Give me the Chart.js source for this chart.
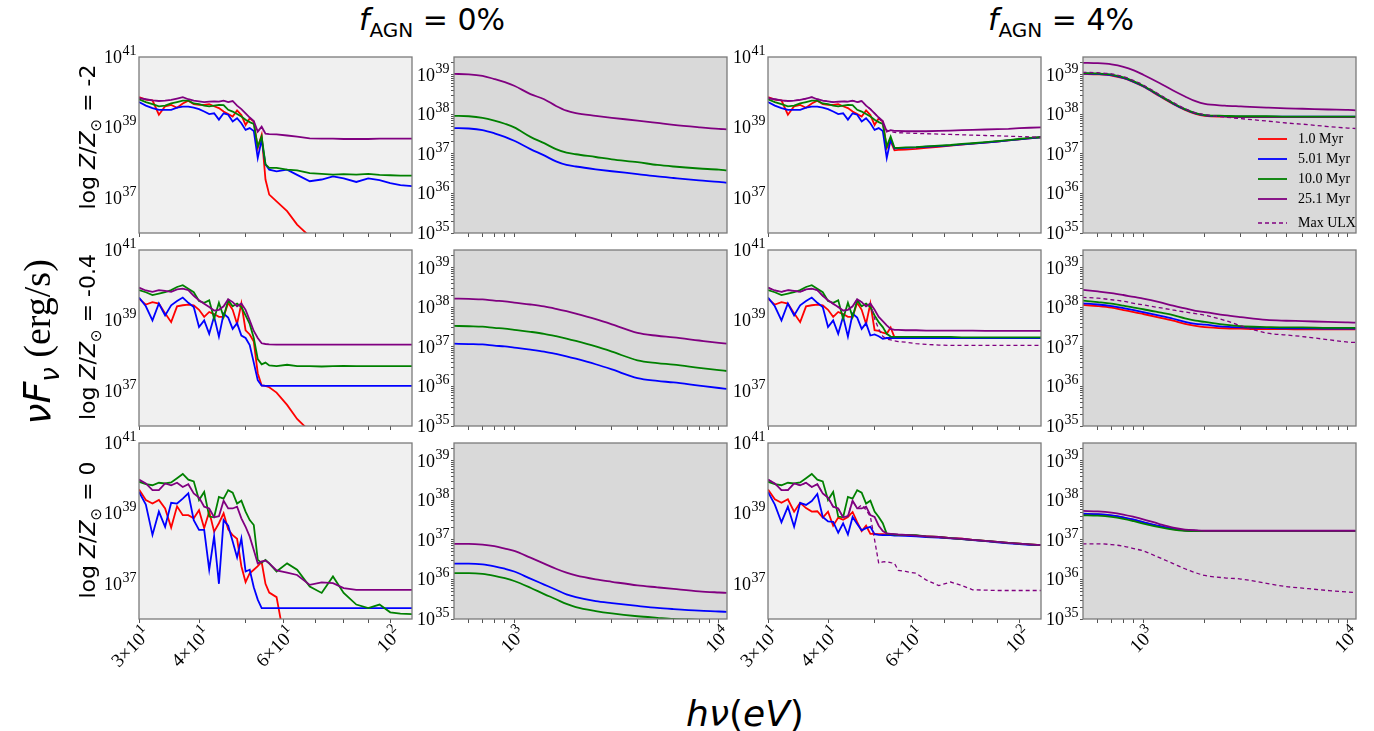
<!DOCTYPE html>
<html>
<head>
<meta charset="utf-8">
<script src="https://cdn.jsdelivr.net/npm/chart.js@4.4.1/dist/chart.umd.min.js"></script>
<style>
  html, body { margin: 0; padding: 0; background: #ffffff; }
  body { width: 1374px; height: 731px; position: relative; overflow: hidden; }
  canvas { position: absolute; }
  .txt { position: absolute; white-space: nowrap; color: #000; transform: translate(-50%, -50%); }
  .rot { transform: translate(-50%, -50%) rotate(-90deg); }
  .sans { font-family: 'DejaVu Sans', sans-serif; }
  .serif { font-family: 'Liberation Serif', 'DejaVu Serif', serif; }
</style>
</head>
<body>
<script>
// ---------------- energies (eV) ----------------
const lowE = [30,31,32,33,34,35,36,37,38,39,40,41,42,43,44,45,46,47,48,49,50,51,52,53,54,55,56,58,61,64,68,72,76,80,85,90,95,100,105,111];
const highE = [505,600,700,800,900,1000,1200,1400,1600,1800,2000,2500,3000,4000,5000,6000,8000,10000,10900];

// ---------------- series names ----------------
const ageLabels = ['1.0 Myr', '5.01 Myr', '10.0 Myr', '25.1 Myr'];
const ulxLabel = 'Max ULX';

// ---------------- tick values / labels ([mantissa, exponent]) ----------------
const lowXTicks = [30,40,50,60,70,80,90,100];
const lowXLabels = [['3×10','1'], ['4×10','1'], null, ['6×10','1'], null, null, null, ['10','2']];
const highXTicks = [600,700,800,900,1000,2000,3000,4000,5000,6000,7000,8000,9000,10000];
const highXLabels = [null,null,null,null,['10','3'],null,null,null,null,null,null,null,null,['10','4']];
const lowYTicks = [1e36,1e37,1e38,1e39,1e40,1e41];
const lowYLabels = [null, ['10','37'], null, ['10','39'], null, ['10','41']];
const highYTicks = [1e35,2e35,3e35,4e35,5e35,6e35,7e35,8e35,9e35,1e36,2e36,3e36,4e36,5e36,6e36,7e36,8e36,9e36,1e37,2e37,3e37,4e37,5e37,6e37,7e37,8e37,9e37,1e38,2e38,3e38,4e38,5e38,6e38,7e38,8e38,9e38,1e39,2e39];
const highYLabels = [['10','35'],null,null,null,null,null,null,null,null,['10','36'],null,null,null,null,null,null,null,null,['10','37'],null,null,null,null,null,null,null,null,['10','38'],null,null,null,null,null,null,null,null,['10','39'],null];

// ---------------- log10 luminosity, low-energy panels ----------------
// log Z/Z_sun = -2, f_AGN = 0%
const lo_m2_f0_red    = [39.86,39.79,39.77,39.36,39.60,39.64,39.56,39.68,39.76,39.66,39.64,39.64,39.66,39.60,39.55,39.45,39.38,39.31,39.48,39.35,39.07,39.26,39.17,38.41,38.79,37.52,37.09,36.90,36.62,36.24,35.90,null,null,null,null,null,null,null,null,null];
const lo_m2_f0_blue   = [39.72,39.62,39.55,39.50,39.50,39.50,39.56,39.59,39.59,39.56,39.52,39.45,39.38,39.40,39.22,39.40,39.36,39.17,39.26,39.12,38.93,38.98,38.90,38.13,38.65,37.95,37.80,37.75,37.80,37.65,37.47,37.52,37.61,37.55,37.45,37.55,37.50,37.42,37.36,37.33];
const lo_m2_f0_green  = [39.80,39.72,39.66,39.60,39.62,39.68,39.72,39.76,39.76,39.68,39.66,39.62,39.60,39.62,39.64,39.63,39.50,39.45,39.38,39.31,39.22,39.15,39.10,38.46,38.74,37.95,37.85,37.85,37.80,37.78,37.70,37.68,37.66,37.67,37.66,37.68,37.65,37.64,37.63,37.63];
const lo_m2_f0_purple = [39.83,39.80,39.77,39.75,39.76,39.78,39.82,39.86,39.80,39.76,39.74,39.72,39.73,39.74,39.73,39.76,39.72,39.75,39.62,39.52,39.40,39.28,39.18,38.88,39.02,38.82,38.81,38.80,38.77,38.74,38.69,38.68,38.68,38.67,38.67,38.67,38.68,38.68,38.68,38.68];
// log Z/Z_sun = -2, f_AGN = 4%
const lo_m2_f4_red    = [39.86,39.79,39.77,39.36,39.60,39.64,39.56,39.68,39.76,39.66,39.64,39.64,39.66,39.60,39.55,39.45,39.38,39.31,39.48,39.35,39.07,39.26,39.17,38.41,38.60,38.35,38.36,38.37,38.39,38.42,38.45,38.48,38.51,38.54,38.57,38.60,38.63,38.66,38.69,38.72];
const lo_m2_f4_blue   = [39.72,39.62,39.55,39.50,39.50,39.50,39.56,39.59,39.59,39.56,39.52,39.45,39.38,39.40,39.22,39.40,39.36,39.17,39.26,39.12,38.93,38.98,38.90,38.13,38.65,38.40,38.41,38.42,38.43,38.45,38.47,38.49,38.52,38.54,38.57,38.60,38.63,38.66,38.69,38.72];
const lo_m2_f4_green  = [39.80,39.72,39.66,39.60,39.62,39.68,39.72,39.76,39.76,39.68,39.66,39.62,39.60,39.62,39.64,39.63,39.50,39.45,39.38,39.31,39.22,39.15,39.10,38.46,38.74,38.42,38.42,38.43,38.44,38.46,38.48,38.50,38.53,38.55,38.58,38.61,38.64,38.67,38.70,38.72];
const lo_m2_f4_purple = [39.83,39.80,39.77,39.75,39.76,39.78,39.82,39.86,39.80,39.76,39.74,39.72,39.73,39.74,39.73,39.76,39.72,39.75,39.62,39.52,39.40,39.28,39.18,38.88,38.92,38.90,38.90,38.89,38.89,38.89,38.90,38.91,38.92,38.93,38.94,38.95,38.96,38.98,38.99,39.00];
const lo_m2_f4_ulx    = [39.83,39.80,39.77,39.75,39.76,39.78,39.82,39.86,39.80,39.76,39.74,39.72,39.73,39.74,39.73,39.76,39.72,39.75,39.62,39.52,39.40,39.28,39.10,38.92,38.88,38.86,38.85,38.84,38.83,38.82,38.81,38.80,38.79,38.78,38.77,38.76,38.75,38.74,38.73,38.72];
// log Z/Z_sun = -0.4, f_AGN = 0%
const lo_m04_f0_red    = [39.62,39.45,39.52,39.48,39.20,38.95,39.40,39.43,39.45,39.43,39.30,39.10,39.24,39.18,39.10,39.10,39.50,39.30,38.90,39.48,38.72,38.60,38.40,37.50,37.15,37.14,37.10,36.95,36.60,36.20,35.85,null,null,null,null,null,null,null,null,null];
const lo_m04_f0_blue   = [39.65,39.40,39.00,39.48,39.14,39.43,39.55,39.65,39.50,39.38,38.81,39.00,38.62,39.11,38.54,39.19,39.08,38.76,38.92,38.57,38.50,38.30,37.80,37.30,37.15,37.14,37.14,37.14,37.14,37.14,37.14,37.14,37.14,37.14,37.14,37.14,37.14,37.14,37.14,37.14];
const lo_m04_f0_green  = [39.86,39.80,39.72,39.76,39.80,39.86,39.95,40.00,39.90,39.80,39.55,39.50,39.57,39.05,39.50,39.10,39.57,39.40,39.48,39.38,39.14,38.90,38.50,37.90,37.75,37.80,37.72,37.70,37.74,37.70,37.70,37.69,37.70,37.71,37.70,37.70,37.70,37.70,37.70,37.70];
const lo_m04_f0_purple = [39.93,39.85,39.81,39.86,39.84,39.81,39.88,39.90,39.86,39.70,39.57,39.47,39.38,39.28,39.30,39.40,39.60,39.52,39.40,39.48,39.30,39.00,38.70,38.50,38.35,38.33,38.32,38.31,38.31,38.31,38.31,38.31,38.31,38.31,38.31,38.31,38.31,38.31,38.31,38.31];
// log Z/Z_sun = -0.4, f_AGN = 4%
const lo_m04_f4_red    = [39.62,39.45,39.52,39.48,39.20,38.95,39.40,39.43,39.45,39.43,39.30,39.10,39.24,39.18,39.10,39.10,39.50,39.30,38.90,39.48,38.72,38.70,38.65,38.62,38.80,38.52,38.51,38.50,38.50,38.50,38.50,38.50,38.50,38.50,38.50,38.50,38.50,38.50,38.50,38.50];
const lo_m04_f4_blue   = [39.65,39.40,39.00,39.48,39.14,39.43,39.55,39.65,39.50,39.38,38.81,39.00,38.62,39.11,38.54,39.19,39.08,38.76,38.92,38.57,38.60,38.55,38.48,38.50,38.50,38.50,38.50,38.50,38.50,38.50,38.50,38.50,38.50,38.50,38.50,38.50,38.50,38.50,38.50,38.50];
const lo_m04_f4_green  = [39.86,39.80,39.72,39.76,39.80,39.86,39.95,40.00,39.90,39.80,39.55,39.50,39.57,39.05,39.50,39.10,39.57,39.40,39.48,39.38,39.14,38.95,38.81,38.62,38.54,38.53,38.53,38.53,38.53,38.53,38.53,38.53,38.52,38.52,38.52,38.52,38.52,38.52,38.52,38.52];
const lo_m04_f4_purple = [39.93,39.85,39.81,39.86,39.84,39.81,39.88,39.90,39.86,39.70,39.57,39.47,39.38,39.28,39.30,39.40,39.60,39.52,39.40,39.48,39.30,39.10,38.98,38.86,38.76,38.73,38.73,38.72,38.72,38.71,38.71,38.71,38.71,38.71,38.70,38.70,38.70,38.70,38.70,38.70];
const lo_m04_f4_ulx    = [39.93,39.85,39.81,39.86,39.84,39.81,39.88,39.90,39.86,39.70,39.57,39.47,39.38,39.28,39.30,39.40,39.60,39.52,39.40,39.48,39.05,38.75,38.55,38.47,38.45,38.42,38.40,38.38,38.34,38.32,38.30,38.29,38.29,38.29,38.29,38.29,38.29,38.29,38.29,38.29];
// log Z/Z_sun = 0, f_AGN = 0%
const lo_0_f0_red    = [39.68,39.38,39.28,39.38,39.14,38.60,39.20,38.95,38.95,38.86,39.09,38.58,39.05,38.48,38.72,39.00,38.55,38.38,38.28,37.50,37.05,37.30,37.40,37.50,37.62,37.00,36.75,36.62,35.00,null,null,null,null,null,null,null,null,null,null,null];
const lo_0_f0_blue   = [39.61,39.25,38.39,39.05,38.62,39.30,39.28,39.42,39.57,38.81,38.53,38.53,37.40,38.35,37.00,38.81,38.65,38.20,37.75,38.29,37.35,37.40,36.90,36.55,36.31,36.31,36.31,36.31,36.31,36.31,36.31,36.31,36.31,36.31,36.31,36.31,36.31,36.31,36.31,36.31];
const lo_0_f0_green  = [39.90,39.83,39.80,39.87,39.85,39.88,40.00,40.12,39.96,39.91,39.38,39.61,38.91,38.89,39.47,39.42,39.66,39.59,39.28,39.36,39.05,38.81,38.67,37.68,37.60,37.68,37.58,37.35,37.58,37.40,36.92,36.74,37.21,36.74,36.41,36.31,36.41,36.19,36.15,36.14];
const lo_0_f0_purple = [39.96,39.85,39.66,39.66,39.85,39.80,39.87,39.75,39.83,39.57,39.45,39.19,39.14,38.89,38.92,39.36,39.14,39.14,39.19,38.86,38.62,38.34,37.96,37.58,37.63,37.66,37.58,37.38,37.32,37.25,36.97,37.04,37.02,36.88,36.83,36.83,36.83,36.83,36.83,36.83];
// log Z/Z_sun = 0, f_AGN = 4%
const lo_0_f4_red    = [39.68,39.40,39.30,39.40,39.05,39.30,39.15,39.05,39.06,38.88,39.05,38.65,38.88,38.82,38.90,39.04,38.75,38.50,38.65,38.42,38.42,38.41,38.41,38.40,38.40,38.39,38.39,38.38,38.37,38.35,38.33,38.30,38.28,38.25,38.22,38.19,38.16,38.14,38.12,38.10];
const lo_0_f4_blue   = [39.61,39.25,38.75,39.19,38.62,39.30,39.24,39.35,39.55,38.90,38.77,38.76,38.45,38.72,38.40,38.90,38.70,38.52,38.58,38.62,38.41,38.39,38.38,38.38,38.38,38.37,38.37,38.36,38.35,38.33,38.31,38.29,38.27,38.24,38.21,38.18,38.15,38.13,38.11,38.10];
const lo_0_f4_green  = [39.90,39.83,39.80,39.87,39.85,39.88,40.00,40.12,39.96,39.91,39.38,39.61,38.91,38.89,39.47,39.42,39.66,39.59,39.28,39.36,39.05,38.90,38.72,38.42,38.41,38.40,38.39,38.39,38.38,38.35,38.33,38.30,38.27,38.25,38.22,38.19,38.16,38.14,38.12,38.10];
const lo_0_f4_purple = [39.96,39.85,39.66,39.66,39.85,39.80,39.87,39.75,39.83,39.57,39.45,39.19,39.14,38.89,38.92,39.36,39.14,39.14,39.19,38.95,38.90,38.65,38.50,38.43,38.42,38.41,38.40,38.39,38.37,38.35,38.33,38.30,38.28,38.25,38.22,38.19,38.16,38.14,38.12,38.10];
const lo_0_f4_ulx    = [39.96,39.85,39.66,39.66,39.85,39.80,39.87,39.75,39.83,39.57,39.45,39.19,39.14,38.89,38.92,39.36,39.14,39.24,39.10,38.91,38.25,37.58,37.62,37.63,37.60,37.58,37.38,37.35,37.30,37.11,36.95,37.05,36.95,36.83,36.82,36.81,36.81,36.81,36.81,36.81];

// ---------------- log10 luminosity, high-energy panels ----------------
const hi_m2_f0_blue   = [37.65,37.64,37.60,37.52,37.43,37.33,37.12,36.96,36.81,36.72,36.68,36.61,36.56,36.49,36.43,36.39,36.33,36.29,36.27];
const hi_m2_f0_green  = [37.96,37.95,37.91,37.84,37.76,37.67,37.43,37.27,37.12,37.03,36.99,36.92,36.86,36.79,36.72,36.68,36.63,36.60,36.58];
const hi_m2_f0_purple = [39.02,39.01,38.97,38.89,38.81,38.72,38.51,38.38,38.21,38.09,38.03,37.96,37.91,37.84,37.78,37.73,37.67,37.63,37.62];

const hi_m2_f4_red    = [39.02,39.01,38.98,38.91,38.81,38.70,38.46,38.26,38.11,38.01,37.96,37.94,37.93,37.93,37.93,37.93,37.93,37.93,37.93];
const hi_m2_f4_blue   = [39.03,39.02,38.99,38.92,38.82,38.71,38.47,38.27,38.12,38.02,37.97,37.95,37.94,37.94,37.94,37.94,37.94,37.94,37.94];
const hi_m2_f4_green  = [39.04,39.03,39.00,38.93,38.83,38.72,38.48,38.28,38.13,38.03,37.98,37.96,37.95,37.95,37.94,37.94,37.94,37.94,37.94];
const hi_m2_f4_purple = [39.30,39.29,39.26,39.20,39.11,39.00,38.79,38.60,38.45,38.33,38.26,38.22,38.20,38.17,38.15,38.14,38.12,38.11,38.10];
const hi_m2_f4_ulx    = [39.06,39.05,39.02,38.95,38.85,38.74,38.50,38.30,38.14,38.04,37.99,37.93,37.89,37.83,37.78,37.75,37.69,37.65,37.64];

const hi_m04_f0_blue   = [37.08,37.07,37.06,37.03,37.01,36.98,36.93,36.88,36.82,36.76,36.70,36.56,36.43,36.21,36.14,36.10,36.02,35.96,35.94];
const hi_m04_f0_green  = [37.53,37.52,37.51,37.48,37.46,37.43,37.38,37.33,37.27,37.21,37.15,37.01,36.88,36.66,36.59,36.55,36.47,36.41,36.39];
const hi_m04_f0_purple = [38.22,38.21,38.20,38.17,38.15,38.12,38.07,38.02,37.96,37.90,37.84,37.70,37.57,37.35,37.28,37.24,37.16,37.10,37.08];

const hi_m04_f4_red    = [38.06,38.03,37.99,37.93,37.88,37.83,37.74,37.66,37.58,37.53,37.50,37.47,37.46,37.45,37.45,37.44,37.44,37.44,37.44];
const hi_m04_f4_blue   = [38.10,38.07,38.03,37.98,37.93,37.88,37.79,37.71,37.63,37.58,37.56,37.51,37.49,37.48,37.47,37.47,37.46,37.46,37.46];
const hi_m04_f4_green  = [38.17,38.13,38.09,38.04,37.99,37.95,37.87,37.80,37.72,37.66,37.63,37.56,37.52,37.50,37.49,37.49,37.48,37.48,37.48];
const hi_m04_f4_purple = [38.44,38.40,38.36,38.31,38.26,38.22,38.13,38.04,37.97,37.91,37.88,37.80,37.75,37.68,37.66,37.65,37.63,37.62,37.61];
const hi_m04_f4_ulx    = [38.25,38.23,38.19,38.15,38.10,38.06,37.99,37.93,37.88,37.84,37.80,37.67,37.53,37.35,37.30,37.26,37.18,37.12,37.11];

const hi_0_f0_blue   = [36.40,36.40,36.38,36.33,36.27,36.20,36.02,35.87,35.74,35.62,35.55,35.45,35.40,35.33,35.28,35.25,35.21,35.19,35.18];
const hi_0_f0_green  = [36.16,36.16,36.14,36.09,36.03,35.96,35.79,35.63,35.50,35.38,35.30,35.20,35.14,35.07,35.03,35.00,34.98,34.96,34.95];
const hi_0_f0_purple = [36.90,36.90,36.88,36.84,36.78,36.72,36.55,36.40,36.27,36.17,36.10,36.00,35.94,35.85,35.80,35.76,35.70,35.67,35.66];

const hi_0_f4_red    = [37.65,37.64,37.61,37.56,37.50,37.44,37.34,37.27,37.24,37.23,37.22,37.22,37.22,37.22,37.22,37.22,37.22,37.22,37.22];
const hi_0_f4_blue   = [37.66,37.65,37.62,37.57,37.51,37.45,37.35,37.28,37.24,37.23,37.22,37.22,37.22,37.22,37.22,37.22,37.22,37.22,37.22];
const hi_0_f4_green  = [37.62,37.61,37.58,37.53,37.47,37.41,37.32,37.26,37.23,37.22,37.22,37.22,37.22,37.22,37.22,37.22,37.22,37.22,37.22];
const hi_0_f4_purple = [37.73,37.72,37.69,37.64,37.58,37.52,37.40,37.31,37.26,37.24,37.23,37.23,37.23,37.23,37.23,37.23,37.23,37.23,37.23];
const hi_0_f4_ulx    = [36.90,36.90,36.88,36.84,36.78,36.72,36.55,36.40,36.27,36.17,36.10,36.04,36.01,35.90,35.82,35.78,35.72,35.68,35.67];

// ---------------- panel grid ----------------
const panels = [
  { row: 0, col: 0, kind: 'low',  red: lo_m2_f0_red,  blue: lo_m2_f0_blue,  green: lo_m2_f0_green,  purple: lo_m2_f0_purple },
  { row: 0, col: 1, kind: 'high', blue: hi_m2_f0_blue, green: hi_m2_f0_green, purple: hi_m2_f0_purple },
  { row: 0, col: 2, kind: 'low',  red: lo_m2_f4_red,  blue: lo_m2_f4_blue,  green: lo_m2_f4_green,  purple: lo_m2_f4_purple, ulx: lo_m2_f4_ulx },
  { row: 0, col: 3, kind: 'high', red: hi_m2_f4_red,  blue: hi_m2_f4_blue,  green: hi_m2_f4_green,  purple: hi_m2_f4_purple, ulx: hi_m2_f4_ulx, legend: true },
  { row: 1, col: 0, kind: 'low',  red: lo_m04_f0_red, blue: lo_m04_f0_blue, green: lo_m04_f0_green, purple: lo_m04_f0_purple },
  { row: 1, col: 1, kind: 'high', blue: hi_m04_f0_blue, green: hi_m04_f0_green, purple: hi_m04_f0_purple },
  { row: 1, col: 2, kind: 'low',  red: lo_m04_f4_red, blue: lo_m04_f4_blue, green: lo_m04_f4_green, purple: lo_m04_f4_purple, ulx: lo_m04_f4_ulx },
  { row: 1, col: 3, kind: 'high', red: hi_m04_f4_red, blue: hi_m04_f4_blue, green: hi_m04_f4_green, purple: hi_m04_f4_purple, ulx: hi_m04_f4_ulx },
  { row: 2, col: 0, kind: 'low',  red: lo_0_f0_red,   blue: lo_0_f0_blue,   green: lo_0_f0_green,   purple: lo_0_f0_purple },
  { row: 2, col: 1, kind: 'high', blue: hi_0_f0_blue, green: hi_0_f0_green, purple: hi_0_f0_purple },
  { row: 2, col: 2, kind: 'low',  red: lo_0_f4_red,   blue: lo_0_f4_blue,   green: lo_0_f4_green,   purple: lo_0_f4_purple, ulx: lo_0_f4_ulx },
  { row: 2, col: 3, kind: 'high', red: hi_0_f4_red,   blue: hi_0_f4_blue,   green: hi_0_f4_green,   purple: hi_0_f4_purple, ulx: hi_0_f4_ulx }
];

// ---------------- layout & style ----------------
const GEOM = { colLeft: [139, 454, 768, 1083], rowTop: [57, 250, 443], plotW: 273, plotH: 176,
               axisW: 62, padTop: 12, padRight: 10, bottomAxisH: 72, innerAxisH: 6 };
const COLORS = { red: '#ff0000', blue: '#0000ff', green: '#008000', purple: '#800080' };
const BG = { low: '#f0f0f0', high: '#d9d9d9' };
const SERIF = "'Liberation Serif', 'DejaVu Serif', serif";

const framePlugin = {
  id: 'frame',
  beforeDraw(chart, args, opts) {
    const { ctx, chartArea: a } = chart;
    ctx.save();
    ctx.fillStyle = opts.bg;
    ctx.fillRect(a.left, a.top, a.right - a.left, a.bottom - a.top);
    ctx.restore();
  },
  afterDraw(chart) {
    const { ctx, chartArea: a } = chart;
    ctx.save();
    ctx.strokeStyle = '#7a7a7a';
    ctx.lineWidth = 1.3;
    ctx.strokeRect(a.left, a.top, a.right - a.left, a.bottom - a.top);
    ctx.restore();
  }
};

// mantissa with a raised exponent, right end of the text at x (vertical middle at y)
function drawPower(ctx, lab, x, y, baseSize, supSize) {
  const [base, sup] = lab;
  ctx.font = baseSize + 'px ' + SERIF;
  const wb = ctx.measureText(base).width;
  ctx.font = supSize + 'px ' + SERIF;
  const ws = ctx.measureText(sup).width;
  const x0 = x - wb - ws;
  const baseline = y + baseSize * 0.33;
  ctx.textAlign = 'left';
  ctx.textBaseline = 'alphabetic';
  ctx.font = baseSize + 'px ' + SERIF;
  ctx.fillText(base, x0, baseline);
  ctx.font = supSize + 'px ' + SERIF;
  ctx.fillText(sup, x0 + wb + 0.5, baseline - baseSize * 0.45);
}

const powerTicksPlugin = {
  id: 'powerTicks',
  afterDraw(chart, args, opts) {
    const { ctx, chartArea: a } = chart;
    const xs = chart.scales.x, ys = chart.scales.y;
    ctx.save();
    ctx.fillStyle = '#000';
    opts.yTicks.forEach((v, i) => {
      const lab = opts.yLabels[i];
      if (!lab) return;
      drawPower(ctx, lab, a.left - opts.yPad, ys.getPixelForValue(v), 18, 14);
    });
    if (opts.showX) {
      opts.xTicks.forEach((v, i) => {
        const lab = opts.xLabels[i];
        if (!lab) return;
        const px = xs.getPixelForValue(v);
        ctx.save();
        ctx.translate(px + 8, a.bottom + 12);
        ctx.rotate(-Math.PI / 4);
        drawPower(ctx, lab, 0, 0, 19, 14);
        ctx.restore();
      });
    }
    ctx.restore();
  }
};

const keyPlugin = {
  id: 'ageKey',
  afterDraw(chart, args, opts) {
    if (!opts.show) return;
    const { ctx, chartArea: a } = chart;
    const items = [
      { label: ageLabels[0], color: COLORS.red, dash: [] },
      { label: ageLabels[1], color: COLORS.blue, dash: [] },
      { label: ageLabels[2], color: COLORS.green, dash: [] },
      { label: ageLabels[3], color: COLORS.purple, dash: [] },
      { label: ulxLabel, color: COLORS.purple, dash: [4, 3] }
    ];
    const rowsY = [82, 102, 122, 142, 166];
    ctx.save();
    ctx.font = '14px ' + SERIF;
    ctx.textBaseline = 'middle';
    ctx.textAlign = 'left';
    ctx.fillStyle = '#000';
    items.forEach((it, i) => {
      const y = a.top + rowsY[i];
      ctx.strokeStyle = it.color;
      ctx.lineWidth = it.dash.length ? 1.3 : 1.8;
      ctx.setLineDash(it.dash);
      ctx.beginPath();
      ctx.moveTo(a.right - 98, y);
      ctx.lineTo(a.right - 69, y);
      ctx.stroke();
      ctx.setLineDash([]);
      ctx.fillText(it.label, a.right - 58, y);
    });
    ctx.restore();
  }
};

function series(xs, arr, color, label, dashed) {
  return {
    label: label,
    data: xs.map((e, i) => ({ x: e, y: arr[i] == null ? null : Math.pow(10, arr[i]) })),
    borderColor: color,
    backgroundColor: color,
    borderWidth: dashed ? 1.3 : 1.8,
    borderDash: dashed ? [4, 3] : [],
    pointRadius: 0,
    fill: false,
    spanGaps: false,
    clip: 0
  };
}

function buildPanel(p) {
  const isLow = p.kind === 'low';
  const bottom = p.row === 2;
  const w = GEOM.axisW + GEOM.plotW + GEOM.padRight;
  const h = GEOM.padTop + GEOM.plotH + (bottom ? GEOM.bottomAxisH : GEOM.innerAxisH);
  const cv = document.createElement('canvas');
  cv.width = w; cv.height = h;
  cv.style.width = w + 'px'; cv.style.height = h + 'px';
  cv.style.left = (GEOM.colLeft[p.col] - GEOM.axisW) + 'px';
  cv.style.top = (GEOM.rowTop[p.row] - GEOM.padTop) + 'px';
  document.body.appendChild(cv);

  const xs = isLow ? lowE : highE;
  const interp = isLow ? {} : { cubicInterpolationMode: 'monotone' };
  const ds = [];
  // first dataset is drawn last (on top)
  if (p.ulx) ds.push(Object.assign(series(xs, p.ulx, COLORS.purple, ulxLabel, true), interp));
  if (p.purple) ds.push(Object.assign(series(xs, p.purple, COLORS.purple, ageLabels[3]), interp));
  if (p.green) ds.push(Object.assign(series(xs, p.green, COLORS.green, ageLabels[2]), interp));
  if (p.blue) ds.push(Object.assign(series(xs, p.blue, COLORS.blue, ageLabels[1]), interp));
  if (p.red) ds.push(Object.assign(series(xs, p.red, COLORS.red, ageLabels[0]), interp));

  const xT = isLow ? lowXTicks : highXTicks, xL = isLow ? lowXLabels : highXLabels;
  const yT = isLow ? lowYTicks : highYTicks, yL = isLow ? lowYLabels : highYLabels;

  new Chart(cv, {
    type: 'line',
    data: { datasets: ds },
    options: {
      responsive: false,
      animation: false,
      devicePixelRatio: 1,
      events: [],
      layout: { padding: { top: GEOM.padTop, right: GEOM.padRight, left: 0, bottom: 0 } },
      plugins: {
        legend: { display: false },
        tooltip: { enabled: false },
        frame: { bg: isLow ? BG.low : BG.high },
        ageKey: { show: !!p.legend },
        powerTicks: { xTicks: xT, xLabels: xL, yTicks: yT, yLabels: yL, showX: bottom, yPad: isLow ? 3 : 5 }
      },
      scales: {
        x: {
          type: 'logarithmic',
          bounds: 'data',
          min: isLow ? 30 : 508,
          max: isLow ? 111 : 10950,
          afterBuildTicks: s => { s.ticks = xT.map(v => ({ value: v })); },
          afterFit: s => { s.height = bottom ? GEOM.bottomAxisH : GEOM.innerAxisH; },
          grid: { drawOnChartArea: false, drawTicks: true, tickLength: 4, color: '#555', lineWidth: 1 },
          border: { display: false },
          ticks: { display: false, autoSkip: false }
        },
        y: {
          type: 'logarithmic',
          bounds: 'data',
          min: isLow ? 1e36 : 1e35,
          max: isLow ? 1e41 : 2.8e39,
          afterBuildTicks: s => { s.ticks = yT.map(v => ({ value: v })); },
          afterFit: s => { s.width = GEOM.axisW; },
          grid: { drawOnChartArea: false, drawTicks: !isLow, tickLength: 3, color: '#555', lineWidth: 1 },
          border: { display: false },
          ticks: { display: false, autoSkip: false }
        }
      }
    },
    plugins: [framePlugin, powerTicksPlugin, keyPlugin]
  });
}

panels.forEach(buildPanel);
</script>

<!-- column headings -->
<div class="txt sans" style="left:432px; top:22px; font-size:30px;"><i>f</i><sub style="font-size:20px;">AGN</sub> = 0%</div>
<div class="txt sans" style="left:1061px; top:22px; font-size:30px;"><i>f</i><sub style="font-size:20px;">AGN</sub> = 4%</div>

<!-- row headings -->
<div class="txt rot sans" style="left:90px; top:137px; font-size:22px;">log <i>Z</i>/<i>Z</i><sub style="font-size:15px;">⊙</sub> = -2</div>
<div class="txt rot sans" style="left:90px; top:337px; font-size:22px;">log <i>Z</i>/<i>Z</i><sub style="font-size:15px;">⊙</sub> = -0.4</div>
<div class="txt rot sans" style="left:90px; top:530px; font-size:22px;">log <i>Z</i>/<i>Z</i><sub style="font-size:15px;">⊙</sub> = 0</div>

<!-- axis titles -->
<div class="txt rot" style="left:40px; top:342px; font-size:38px;"><span class="sans"><i>νF</i><sub style="font-size:26px;"><i>ν</i></sub></span><span class="serif"> (erg/s)</span></div>
<div class="txt sans" style="left:745px; top:713px; font-size:36px;"><i>hν</i>(<i>eV</i>)</div>
</body>
</html>
